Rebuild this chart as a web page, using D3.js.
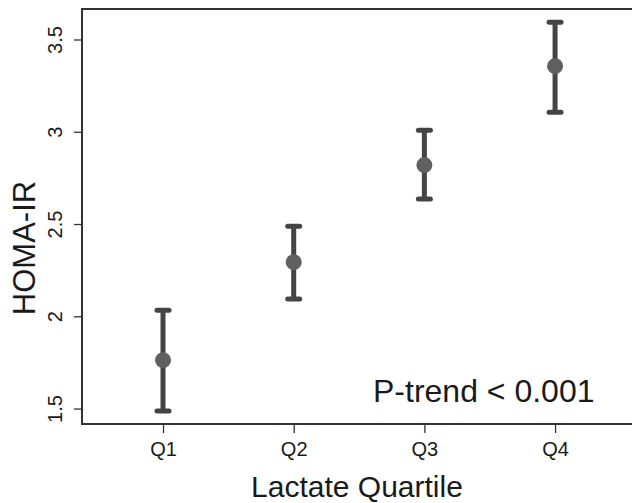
<!DOCTYPE html>
<html>
<head>
<meta charset="utf-8">
<script src="https://cdn.jsdelivr.net/npm/d3@7"></script>
<style>
  body { margin: 0; background: #fff; overflow: hidden; }
  svg { display: block; font-family: "Liberation Sans", Arial, sans-serif; }
</style>
</head>
<body>
<div id="viz"></div>
<script>
// Data
const quartiles = ['Q1', 'Q2', 'Q3', 'Q4'];
const means = [1.765, 2.296, 2.822, 3.358];
const lowers = [1.49, 2.096, 2.638, 3.109];
const uppers = [2.036, 2.491, 3.011, 3.596];
const yTicks = [1.5, 2, 2.5, 3, 3.5];

(function () {
  const W = 632, H = 503;
  const margin = { top: 9, left: 82, bottom: 79 };
  const plotRight = 640; // frame runs past the right edge

  const svg = d3.select('#viz').append('svg')
    .attr('width', W)
    .attr('height', H);

  const x = d3.scaleLinear()
    .domain([0.38, 4.65])
    .range([margin.left, plotRight]);

  const y = d3.scaleLinear()
    .domain([1.419, 3.668])
    .range([H - margin.bottom, margin.top]);

  const data = quartiles.map((q, i) => ({ q, pos: i + 1, mean: means[i], lo: lowers[i], hi: uppers[i] }));

  // Frame: top, left, bottom (right side is off the picture)
  const bottom = H - margin.bottom;
  svg.append('path')
    .attr('d', `M${plotRight},${margin.top}H${margin.left}V${bottom}H${plotRight}`)
    .attr('fill', 'none')
    .attr('stroke', '#333')
    .attr('stroke-width', 2);

  // Axes
  const xAxis = svg.append('g')
    .attr('transform', `translate(0,${bottom})`)
    .call(d3.axisBottom(x)
      .tickValues([1, 2, 3, 4])
      .tickFormat((d) => quartiles[d - 1])
      .tickSize(9)
      .tickPadding(9));
  xAxis.select('.domain').remove();
  xAxis.selectAll('line').attr('stroke', '#333').attr('stroke-width', 1.3);
  xAxis.selectAll('text')
    .attr('font-size', 20)
    .attr('font-family', '"Liberation Sans", Arial, sans-serif')
    .attr('fill', '#1a1a1a');

  const yAxis = svg.append('g')
    .attr('transform', `translate(${margin.left},0)`)
    .call(d3.axisLeft(y)
      .tickValues(yTicks)
      .tickFormat(d3.format('~g'))
      .tickSize(8));
  yAxis.select('.domain').remove();
  yAxis.selectAll('.tick').attr('transform', 'translate(0,0)');
  yAxis.selectAll('.tick line')
    .attr('y1', (d) => y(d))
    .attr('y2', (d) => y(d))
    .attr('stroke', '#333')
    .attr('stroke-width', 1.3);
  yAxis.selectAll('.tick text')
    .attr('font-size', 20)
    .attr('font-family', '"Liberation Sans", Arial, sans-serif')
    .attr('fill', '#1a1a1a')
    .attr('text-anchor', 'middle')
    .attr('dy', 0)
    .attr('x', 0)
    .attr('y', 0)
    .attr('transform', (d) => `translate(-20,${y(d)}) rotate(-90)`);

  // Axis titles
  svg.append('text')
    .attr('x', (margin.left + W) / 2)
    .attr('y', 497)
    .attr('text-anchor', 'middle')
    .attr('font-size', 30)
    .attr('fill', '#1a1a1a')
    .text('Lactate Quartile');

  svg.append('text')
    .attr('transform', 'translate(35,248) rotate(-90)')
    .attr('text-anchor', 'middle')
    .attr('font-size', 31)
    .attr('fill', '#1a1a1a')
    .text('HOMA-IR');

  // Error bars
  const g = svg.append('g');
  g.selectAll('.bar')
    .data(data)
    .enter()
    .append('line')
    .attr('x1', (d) => x(d.pos))
    .attr('x2', (d) => x(d.pos))
    .attr('y1', (d) => y(d.lo))
    .attr('y2', (d) => y(d.hi))
    .attr('stroke', '#444')
    .attr('stroke-width', 5);

  ['lo', 'hi'].forEach((k) => {
    g.selectAll('.cap-' + k)
      .data(data)
      .enter()
      .append('line')
      .attr('x1', (d) => x(d.pos) - 6)
      .attr('x2', (d) => x(d.pos) + 6)
      .attr('y1', (d) => y(d[k]))
      .attr('y2', (d) => y(d[k]))
      .attr('stroke', '#444')
      .attr('stroke-width', 5)
      .attr('stroke-linecap', 'round');
  });

  g.selectAll('.dot')
    .data(data)
    .enter()
    .append('circle')
    .attr('cx', (d) => x(d.pos))
    .attr('cy', (d) => y(d.mean))
    .attr('r', 8)
    .attr('fill', '#606060');

  // Annotation
  svg.append('text')
    .attr('x', 373)
    .attr('y', 402)
    .attr('font-size', 32)
    .attr('fill', '#1a1a1a')
    .text('P-trend < 0.001');
})();
</script>
</body>
</html>
